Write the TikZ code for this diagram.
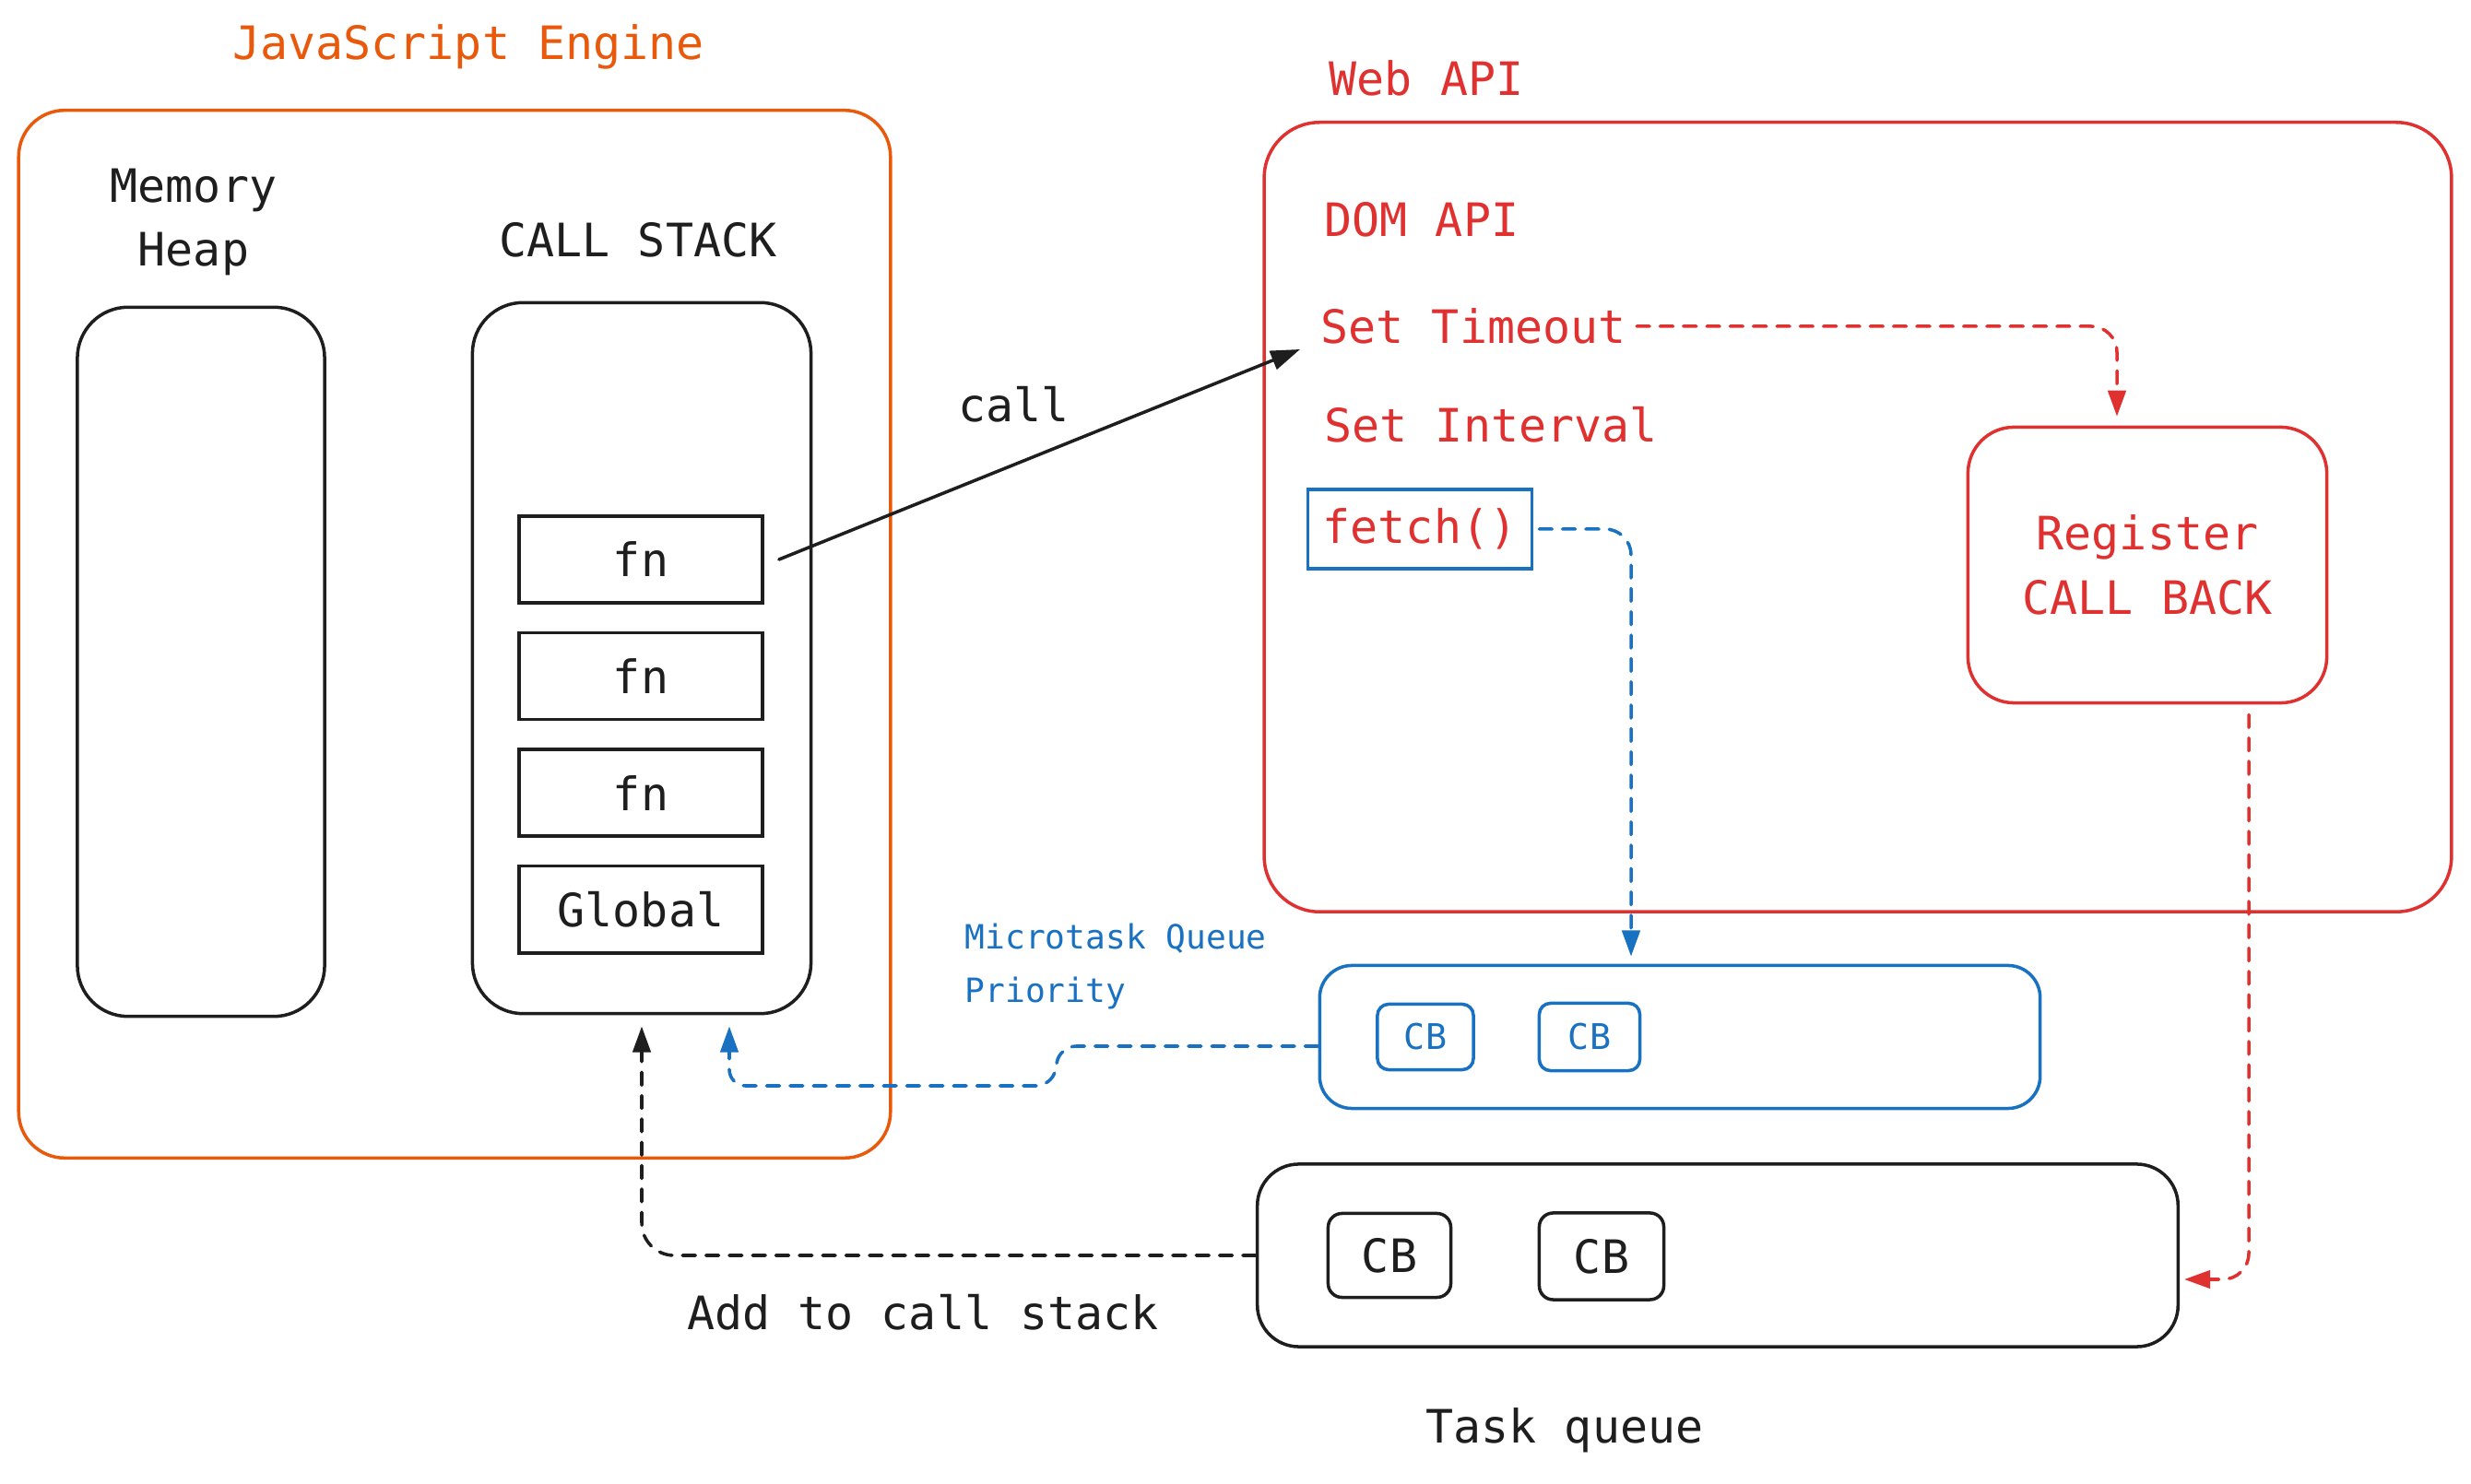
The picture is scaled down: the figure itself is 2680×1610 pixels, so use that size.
\documentclass[tikz,border=0pt]{standalone}
\usepackage{fontspec}
\setmonofont{DejaVu Sans Mono}
\usetikzlibrary{arrows.meta,positioning,calc}
\definecolor{cEngine}{HTML}{E8590C}
\definecolor{cWeb}{HTML}{E03131}
\definecolor{cMicro}{HTML}{1971C2}
\definecolor{cInk}{HTML}{1E1E1E}
\newcommand{\fsbig}{\fontsize{14.2}{19.8}\selectfont}
\newcommand{\fssmall}{\fontsize{10.3}{16.5}\selectfont}
\tikzset{
  font=\ttfamily\fsbig,
  box/.style={draw,line width=1pt,align=center,inner sep=0pt},
  engine/.style={box,draw=cEngine,rounded corners=0.5cm},
  webapi/.style={box,draw=cWeb,rounded corners=0.6cm},
  slot/.style={box,draw=cInk,rounded corners=0.55cm},
  frame/.style={box,draw=cInk,text=cInk,minimum width=2.64cm,minimum height=0.94cm},
  cbBlack/.style={box,draw=cInk,text=cInk,rounded corners=0.15cm},
  cbBlue/.style={box,draw=cMicro,text=cMicro,rounded corners=0.12cm,
                 font=\ttfamily\fontsize{10.9}{12}\selectfont},
  lbl/.style={inner sep=0pt,text=cInk,align=center},
  webitem/.style={inner sep=0pt,text=cWeb,anchor=west},
  flow/.style={-{Triangle[length=8pt,width=5.5pt]},line width=1pt,line cap=round},
  dflow/.style={flow,dash pattern=on 4pt off 3.2pt,rounded corners=8pt},
}

\begin{document}
\begin{tikzpicture}[x=0.01cm,y=-0.01cm]
\useasboundingbox (0,0) rectangle (2680,1610);

% ============ JAVASCRIPT ENGINE ============
\node[lbl,text=cEngine] (jsTitle) at (508,51) {JavaScript Engine};
\node[engine,minimum width=9.45cm,minimum height=11.36cm] (engine) at (493,688) {};
\node[lbl] (heapLbl) at (210,241) {Memory\\Heap};
\node[slot,minimum width=2.68cm,minimum height=7.69cm] (heap) at (218,718) {};
\node[lbl] (stackLbl) at (692,260) {CALL STACK};
\node[slot,minimum width=3.67cm,minimum height=7.71cm] (stack) at (696,714) {};
\node[frame] (fn1) at (695,607) {fn};
\node[frame,below=2.9mm of fn1] (fn2) {fn};
\node[frame,below=2.9mm of fn2] (fn3) {fn};
\node[frame,below=2.9mm of fn3] (global) {Global};

% ============ WEB API ============
\node[lbl,text=cWeb] (webTitle) at (1547,85) {Web API};
\node[webapi,minimum width=12.87cm,minimum height=8.56cm] (web) at (2015,561) {};
\node[webitem] (dom) at (1436,238) {DOM API};
\node[webitem] (timeout) at (1432,354) {Set Timeout};
\node[webitem] (interval) at (1436,461) {Set Interval};
\node[box,draw=cMicro,text=cWeb,minimum width=2.43cm,minimum height=0.86cm] (fetch) at (1540,574) {fetch()};
\node[box,draw=cWeb,text=cWeb,rounded corners=0.5cm,minimum width=3.89cm,
      minimum height=2.99cm] (register) at (2329,613) {Register\\CALL BACK};

% ============ QUEUES ============
\node[lbl,text=cMicro,font=\ttfamily\fssmall,anchor=west,align=left] (microLbl) at (1046,1049)
   {Microtask Queue\\Priority};
\node[box,draw=cMicro,rounded corners=0.35cm,minimum width=7.81cm,minimum height=1.55cm] (micro) at (1822,1125) {};
\node[cbBlue,minimum width=1.04cm,minimum height=0.71cm] (mcb1) at (1546,1125) {CB};
\node[cbBlue,minimum width=1.09cm,minimum height=0.73cm] (mcb2) at (1724,1125) {CB};
\node[box,draw=cInk,rounded corners=0.45cm,minimum width=9.98cm,minimum height=1.98cm] (task) at (1863,1362) {};
\node[cbBlack,minimum width=1.33cm,minimum height=0.91cm] (tcb1) at (1507,1362) {CB};
\node[cbBlack,minimum width=1.35cm,minimum height=0.94cm] (tcb2) at (1737,1363) {CB};
\node[lbl] (taskLbl) at (1697,1552) {Task queue};
\node[lbl] (addLbl) at (1001,1424) {Add to call stack};

% ---------- edges ----------
\draw[flow,cInk,-{Triangle[length=9pt,width=6pt]}] ($(fn1.east)+(16,0)$)
   -- node[lbl,pos=0.45,above=4.4mm] (callLbl) {call} ($(timeout.west)+(-22,25)$);
\draw[dflow,cWeb,shorten >=2.8pt] ($(timeout.east)+(11,0)$) -| ($(register.north)+(-33,0)$);
\draw[dflow,cMicro,shorten >=2.3pt] ($(fetch.east)+(6,0)$) -| ($(micro.north)+(-53,0)$);
\draw[dflow,cWeb] ($(register.south)+(110,11)$) |- ($(task.east)+(5,26)$);

% ---------- back to the call stack ----------
\draw[dflow,cMicro,rounded corners=5pt] ($(micro.west)+(0,10)$) -- ++(-280,0) -- ++(-8,43)
   -| ($(stack.south)+(95,12)$);
\draw[dflow,cInk,rounded corners=10pt] (task.west) -| ($(stack.south)+(0,12)$);

\end{tikzpicture}
\end{document}
